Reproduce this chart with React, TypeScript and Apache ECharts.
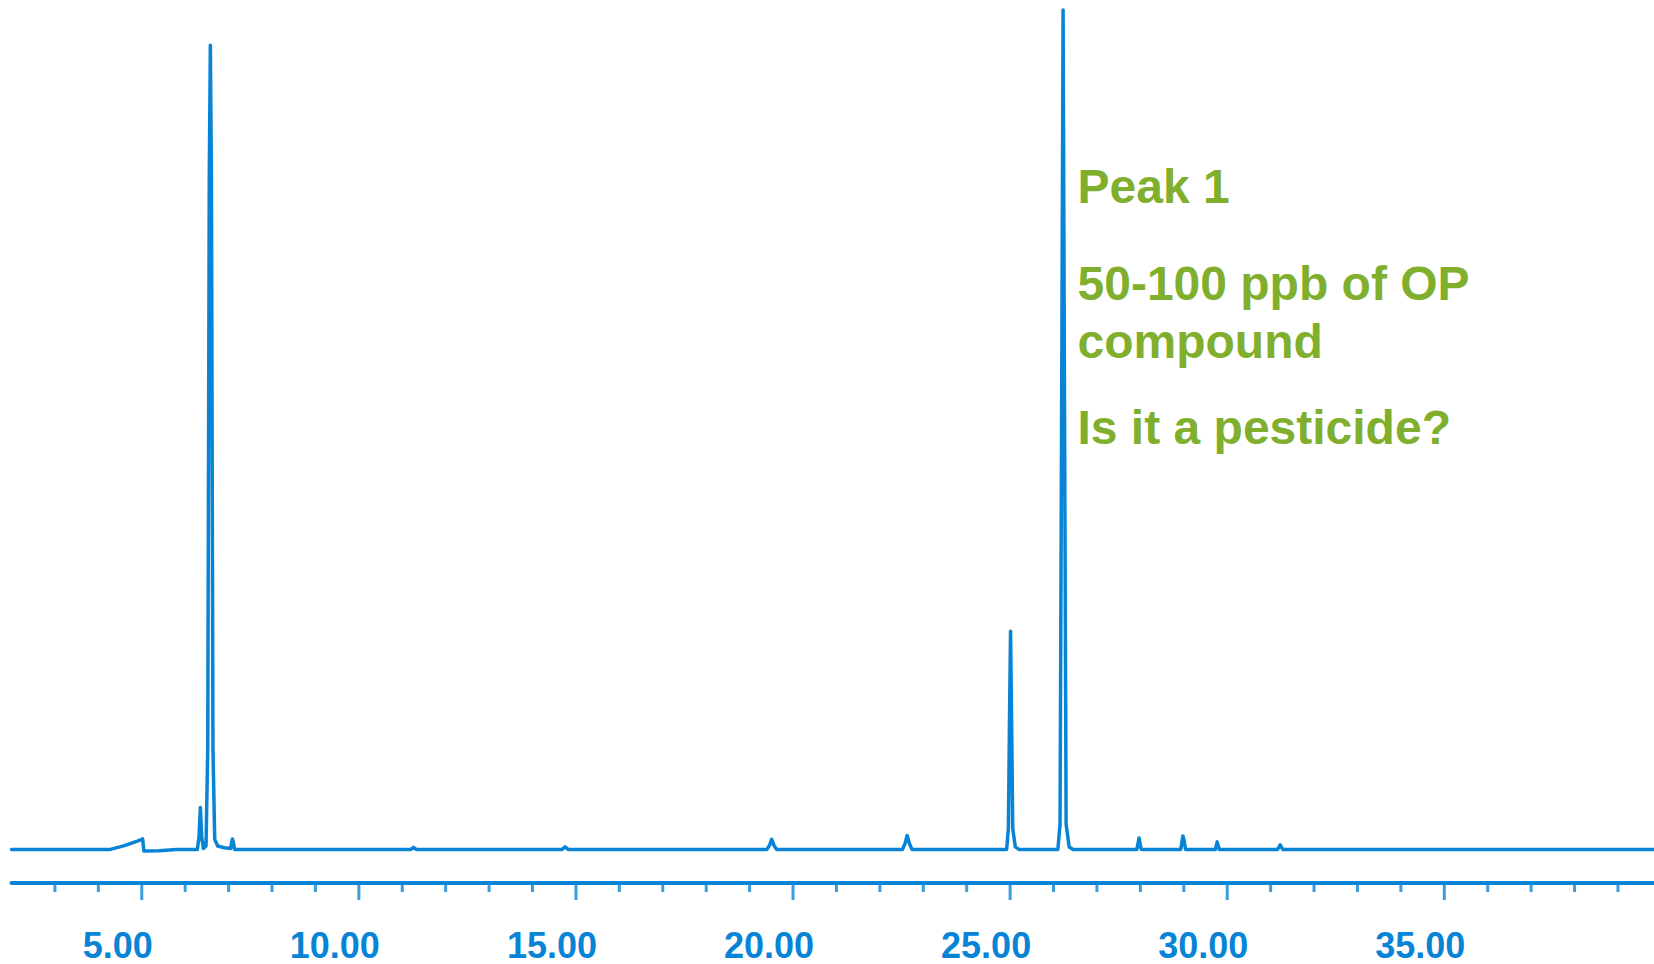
import React, { useEffect, useRef } from "react";
import * as echarts from "echarts";

// Retention time (min) and detector signal (relative, tallest peak = 100)
const times = [
  2.0, 4.28, 4.6, 4.9, 5.0, 5.02, 5.05, 5.4, 5.8,
  6.28, 6.32, 6.35, 6.38, 6.42, 6.48, 6.52, 6.555, 6.58, 6.605, 6.64, 6.68, 6.75, 6.9,
  7.05, 7.07, 7.09, 7.11, 7.14,
  11.2, 11.26, 11.32,
  14.68, 14.75, 14.82,
  19.4, 19.46, 19.51, 19.56, 19.62,
  22.52, 22.58, 22.63, 22.68, 22.74,
  24.92, 24.96, 24.985, 25.01, 25.035, 25.06, 25.12, 25.2,
  26.1, 26.15, 26.185, 26.22, 26.255, 26.29, 26.36, 26.45,
  27.92, 27.95, 27.97, 27.99, 28.02,
  28.93, 28.96, 28.98, 29.01, 29.04,
  29.73, 29.75, 29.77, 29.79, 29.82,
  31.16, 31.22, 31.28,
  39.83,
];
const signal = [
  0, 0, 0.45, 1.0, 1.2, 1.25, -0.2, -0.15, 0,
  0, 1.5, 5.0, 1.5, 0.1, 0.4, 12, 80, 95.8, 80, 12, 1.2, 0.4, 0.2,
  0.1, 0.8, 1.25, 0.8, 0,
  0, 0.25, 0,
  0, 0.3, 0,
  0, 0.5, 1.2, 0.5, 0,
  0, 0.7, 1.65, 0.7, 0,
  0, 2.5, 15, 26.0, 15, 2.5, 0.3, 0,
  0, 3, 50, 100, 50, 3, 0.3, 0,
  0, 0.8, 1.35, 0.8, 0,
  0, 1.0, 1.6, 1.0, 0,
  0, 0.5, 0.9, 0.5, 0,
  0, 0.55, 0,
  0,
];

const minorTicks = [
  3, 4, 6, 7, 8, 9, 11, 12, 13, 14, 16, 17, 18, 19, 21, 22, 23, 24,
  26, 27, 28, 29, 31, 32, 33, 34, 36, 37, 38, 39,
];
const majorTicks = [5, 10, 15, 20, 25, 30, 35];
const tickLabels = ["5.00", "10.00", "15.00", "20.00", "25.00", "30.00", "35.00"];

const noteLines = ["Peak 1", "50-100 ppb of OP", "compound", "Is it a pesticide?"];

const BLUE = "#0884D6";
const GREEN = "#7FAF2C";
const Y_MIN = -4;

export default function App() {
  const ref = useRef<HTMLDivElement>(null);

  useEffect(() => {
    if (!ref.current) return;
    const chart = echarts.init(ref.current, null, { renderer: "svg" });
    const lineData = times.map((t, i) => [t, signal[i]]);
    const noteY = [186, 283, 341, 427];

    chart.setOption({
      animation: false,
      backgroundColor: "#ffffff",
      grid: {
        left: 11.5,
        right: 0,
        top: 10,
        bottom: 81,
        containLabel: false,
        outerBoundsMode: "none",
      },
      xAxis: {
        type: "value",
        min: 2,
        max: 39.83,
        interval: 1,
        axisLine: { show: true, onZero: false, lineStyle: { color: BLUE, width: 4 } },
        axisTick: { show: false },
        splitLine: { show: false },
        axisLabel: {
          show: true,
          margin: 62,
          verticalAlign: "middle",
          align: "center",
          lineHeight: 34,
          padding: [0, 48, 0, 0],
          color: BLUE,
          fontSize: 36,
          fontWeight: "bold",
          fontFamily: "Liberation Sans, Arial, sans-serif",
          formatter: (v: number) => {
            const idx = majorTicks.indexOf(Math.round(v));
            return idx >= 0 && Math.abs(v - Math.round(v)) < 1e-6 ? tickLabels[idx] : "";
          },
        },
      },
      yAxis: {
        type: "value",
        min: Y_MIN,
        max: 100,
        show: false,
        splitLine: { show: false },
      },
      series: [
        {
          type: "line",
          data: lineData,
          showSymbol: false,
          symbol: "none",
          clip: false,
          lineStyle: { color: BLUE, width: 3.5, join: "round", cap: "round" },
          z: 3,
        },
        {
          type: "scatter",
          data: minorTicks.map((t) => [t, Y_MIN]),
          symbol: "rect",
          symbolSize: [3, 7],
          symbolOffset: [0, 5.5],
          clip: false,
          silent: true,
          itemStyle: { color: BLUE },
          z: 2,
        },
        {
          type: "scatter",
          data: majorTicks.map((t) => [t, Y_MIN]),
          symbol: "rect",
          symbolSize: [3, 15],
          symbolOffset: [0, 9.5],
          clip: false,
          silent: true,
          itemStyle: { color: BLUE },
          z: 2,
        },
      ],
      graphic: noteLines.map((txt, i) => ({
        type: "text",
        x: 1077.5,
        y: noteY[i],
        style: {
          text: txt,
          fill: GREEN,
          font: 'bold 48px "Liberation Sans", Arial, sans-serif',
          verticalAlign: "middle",
          align: "left",
        },
        z: 10,
      })),
    });

    return () => {
      chart.dispose();
    };
  }, []);

  return (
    <div
      ref={ref}
      style={{ position: "absolute", left: 0, top: 0, width: 1654, height: 964 }}
    />
  );
}
